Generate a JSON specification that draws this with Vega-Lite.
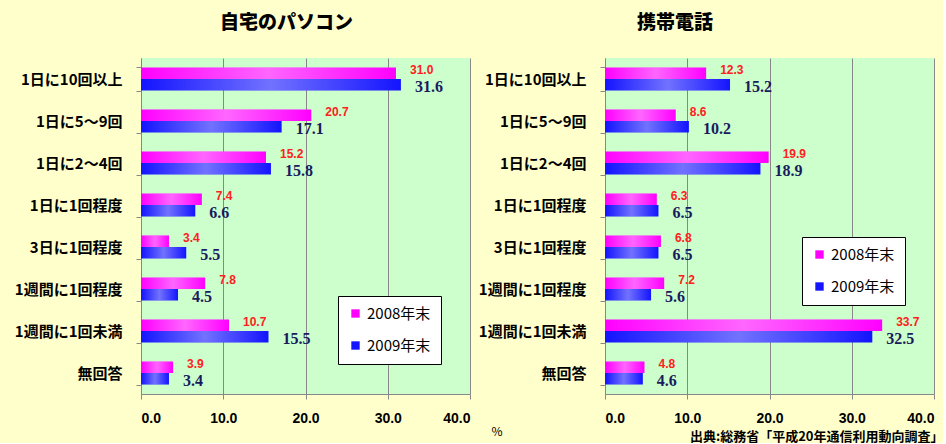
{
  "$schema": "https://vega.github.io/schema/vega-lite/v6.json",
  "background": "#FFFFCC",
  "padding": {"left": 6, "top": 14, "right": 0, "bottom": 0},
  "autosize": {"type": "pad"},
  "bounds": "flush",
  "spacing": 135,
  "datasets": {
    "pc": [
      {"cat": "1日に10回以上", "year": "2008年末", "value": 31.0},
      {"cat": "1日に10回以上", "year": "2009年末", "value": 31.6},
      {"cat": "1日に5～9回", "year": "2008年末", "value": 20.7},
      {"cat": "1日に5～9回", "year": "2009年末", "value": 17.1},
      {"cat": "1日に2～4回", "year": "2008年末", "value": 15.2},
      {"cat": "1日に2～4回", "year": "2009年末", "value": 15.8},
      {"cat": "1日に1回程度", "year": "2008年末", "value": 7.4},
      {"cat": "1日に1回程度", "year": "2009年末", "value": 6.6},
      {"cat": "3日に1回程度", "year": "2008年末", "value": 3.4},
      {"cat": "3日に1回程度", "year": "2009年末", "value": 5.5},
      {"cat": "1週間に1回程度", "year": "2008年末", "value": 7.8},
      {"cat": "1週間に1回程度", "year": "2009年末", "value": 4.5},
      {"cat": "1週間に1回未満", "year": "2008年末", "value": 10.7},
      {"cat": "1週間に1回未満", "year": "2009年末", "value": 15.5},
      {"cat": "無回答", "year": "2008年末", "value": 3.9},
      {"cat": "無回答", "year": "2009年末", "value": 3.4}
    ],
    "mobile": [
      {"cat": "1日に10回以上", "year": "2008年末", "value": 12.3},
      {"cat": "1日に10回以上", "year": "2009年末", "value": 15.2},
      {"cat": "1日に5～9回", "year": "2008年末", "value": 8.6},
      {"cat": "1日に5～9回", "year": "2009年末", "value": 10.2},
      {"cat": "1日に2～4回", "year": "2008年末", "value": 19.9},
      {"cat": "1日に2～4回", "year": "2009年末", "value": 18.9},
      {"cat": "1日に1回程度", "year": "2008年末", "value": 6.3},
      {"cat": "1日に1回程度", "year": "2009年末", "value": 6.5},
      {"cat": "3日に1回程度", "year": "2008年末", "value": 6.8},
      {"cat": "3日に1回程度", "year": "2009年末", "value": 6.5},
      {"cat": "1週間に1回程度", "year": "2008年末", "value": 7.2},
      {"cat": "1週間に1回程度", "year": "2009年末", "value": 5.6},
      {"cat": "1週間に1回未満", "year": "2008年末", "value": 33.7},
      {"cat": "1週間に1回未満", "year": "2009年末", "value": 32.5},
      {"cat": "無回答", "year": "2008年末", "value": 4.8},
      {"cat": "無回答", "year": "2009年末", "value": 4.6}
    ]
  },
  "hconcat": [
    {
      "width": 329,
      "height": 336,
      "title": {"text": "自宅のパソコン", "anchor": "start", "frame": "group", "dx": 79, "fontSize": 19, "fontWeight": 900, "font": "Noto Sans CJK JP", "color": "#000000", "offset": 18},
      "data": {"name": "pc"},
      "encoding": {
        "y": {"field": "cat", "type": "nominal", "sort": ["1日に10回以上", "1日に5～9回", "1日に2～4回", "1日に1回程度", "3日に1回程度", "1週間に1回程度", "1週間に1回未満", "無回答"], "scale": {"paddingInner": 0.45, "paddingOuter": 0.225}, "axis": {"title": null}},
        "x": {"field": "value", "type": "quantitative", "scale": {"domain": [0, 40]}, "axis": {"values": [0, 10, 20, 30, 40], "format": ".1f", "title": "%", "titleX": 350, "titleY": 37, "titleAlign": "left", "titleBaseline": "middle", "titleFontSize": 12, "titleFontWeight": "normal"}},
        "yOffset": {"field": "year", "type": "nominal", "sort": ["2008年末", "2009年末"]}
      },
      "layer": [
        {
          "mark": {"type": "bar"},
          "encoding": {
            "color": {"field": "year", "type": "nominal", "scale": {"domain": ["2008年末", "2009年末"], "range": ["#FF00FF", "#1414FF"]},
              "legend": {"orient": "none", "legendX": 197, "legendY": 238, "title": null, "fillColor": "#FFFFFF", "strokeColor": "#000000", "padding": 10, "symbolType": "square", "symbolSize": 70, "symbolStrokeWidth": 0, "labelFontSize": 15, "labelFont": "Noto Sans CJK JP", "labelColor": "#000000", "rowPadding": 16}}
          }
        },
        {
          "mark": {"type": "bar", "color": {"gradient": "linear", "x1": 0, "x2": 1, "y1": 0, "y2": 0, "stops": [{"offset": 0, "color": "rgba(255,255,255,0)"}, {"offset": 0.5, "color": "rgba(255,255,255,0.4)"}, {"offset": 1, "color": "rgba(255,255,255,0)"}]}}
        },
        {
          "transform": [{"filter": "datum.year == '2008年末'"}],
          "mark": {"type": "text", "align": "left", "dx": 14, "dy": -3, "color": "#FF2020", "fontSize": 12, "fontWeight": "bold", "font": "Liberation Sans"},
          "encoding": {"text": {"field": "value", "type": "quantitative", "format": ".1f"}}
        },
        {
          "transform": [{"filter": "datum.year == '2009年末'"}],
          "mark": {"type": "text", "align": "left", "dx": 14, "dy": 2, "color": "#1A1A5C", "fontSize": 16, "fontWeight": "bold", "font": "Liberation Serif"},
          "encoding": {"text": {"field": "value", "type": "quantitative", "format": ".1f"}}
        }
      ]
    },
    {
      "width": 329,
      "height": 336,
      "title": {"text": "携帯電話", "anchor": "start", "frame": "group", "dx": 32, "fontSize": 19, "fontWeight": 900, "font": "Noto Sans CJK JP", "color": "#000000", "offset": 18},
      "data": {"name": "mobile"},
      "encoding": {
        "y": {"field": "cat", "type": "nominal", "sort": ["1日に10回以上", "1日に5～9回", "1日に2～4回", "1日に1回程度", "3日に1回程度", "1週間に1回程度", "1週間に1回未満", "無回答"], "scale": {"paddingInner": 0.45, "paddingOuter": 0.225}, "axis": {"title": null}},
        "x": {"field": "value", "type": "quantitative", "scale": {"domain": [0, 40]}, "axis": {"values": [0, 10, 20, 30, 40], "format": ".1f", "title": "出典:総務省「平成20年通信利用動向調査」", "titleX": 338, "titleY": 46, "titleAlign": "right", "titleBaseline": "alphabetic", "titleFontSize": 13, "titleFontWeight": "bold"}},
        "yOffset": {"field": "year", "type": "nominal", "sort": ["2008年末", "2009年末"]}
      },
      "layer": [
        {
          "mark": {"type": "bar"},
          "encoding": {
            "color": {"field": "year", "type": "nominal", "scale": {"domain": ["2008年末", "2009年末"], "range": ["#FF00FF", "#1414FF"]},
              "legend": {"orient": "none", "legendX": 197, "legendY": 179, "title": null, "fillColor": "#FFFFFF", "strokeColor": "#000000", "padding": 10, "symbolType": "square", "symbolSize": 70, "symbolStrokeWidth": 0, "labelFontSize": 15, "labelFont": "Noto Sans CJK JP", "labelColor": "#000000", "rowPadding": 16}}
          }
        },
        {
          "mark": {"type": "bar", "color": {"gradient": "linear", "x1": 0, "x2": 1, "y1": 0, "y2": 0, "stops": [{"offset": 0, "color": "rgba(255,255,255,0)"}, {"offset": 0.5, "color": "rgba(255,255,255,0.4)"}, {"offset": 1, "color": "rgba(255,255,255,0)"}]}}
        },
        {
          "transform": [{"filter": "datum.year == '2008年末'"}],
          "mark": {"type": "text", "align": "left", "dx": 14, "dy": -3, "color": "#FF2020", "fontSize": 12, "fontWeight": "bold", "font": "Liberation Sans"},
          "encoding": {"text": {"field": "value", "type": "quantitative", "format": ".1f"}}
        },
        {
          "transform": [{"filter": "datum.year == '2009年末'"}],
          "mark": {"type": "text", "align": "left", "dx": 14, "dy": 2, "color": "#1A1A5C", "fontSize": 16, "fontWeight": "bold", "font": "Liberation Serif"},
          "encoding": {"text": {"field": "value", "type": "quantitative", "format": ".1f"}}
        }
      ]
    }
  ],
  "resolve": {"scale": {"color": "independent"}, "legend": {"color": "independent"}},
  "config": {
    "view": {"fill": "#CCFFCC", "stroke": null},
    "font": "Noto Sans CJK JP",
    "axis": {"domainColor": "#888888", "tickColor": "#888888", "gridColor": "#888888", "labelColor": "#000000", "labelFontWeight": "bold", "titleColor": "#000000"},
    "axisX": {"grid": true, "tickSize": 5, "labelPadding": 12, "labelFontSize": 14, "labelFont": "Liberation Sans"},
    "axisY": {"grid": false, "tickBand": "extent", "tickSize": 5, "labelPadding": 14, "labelFontSize": 15, "minExtent": 135, "maxExtent": 135}
  }
}
